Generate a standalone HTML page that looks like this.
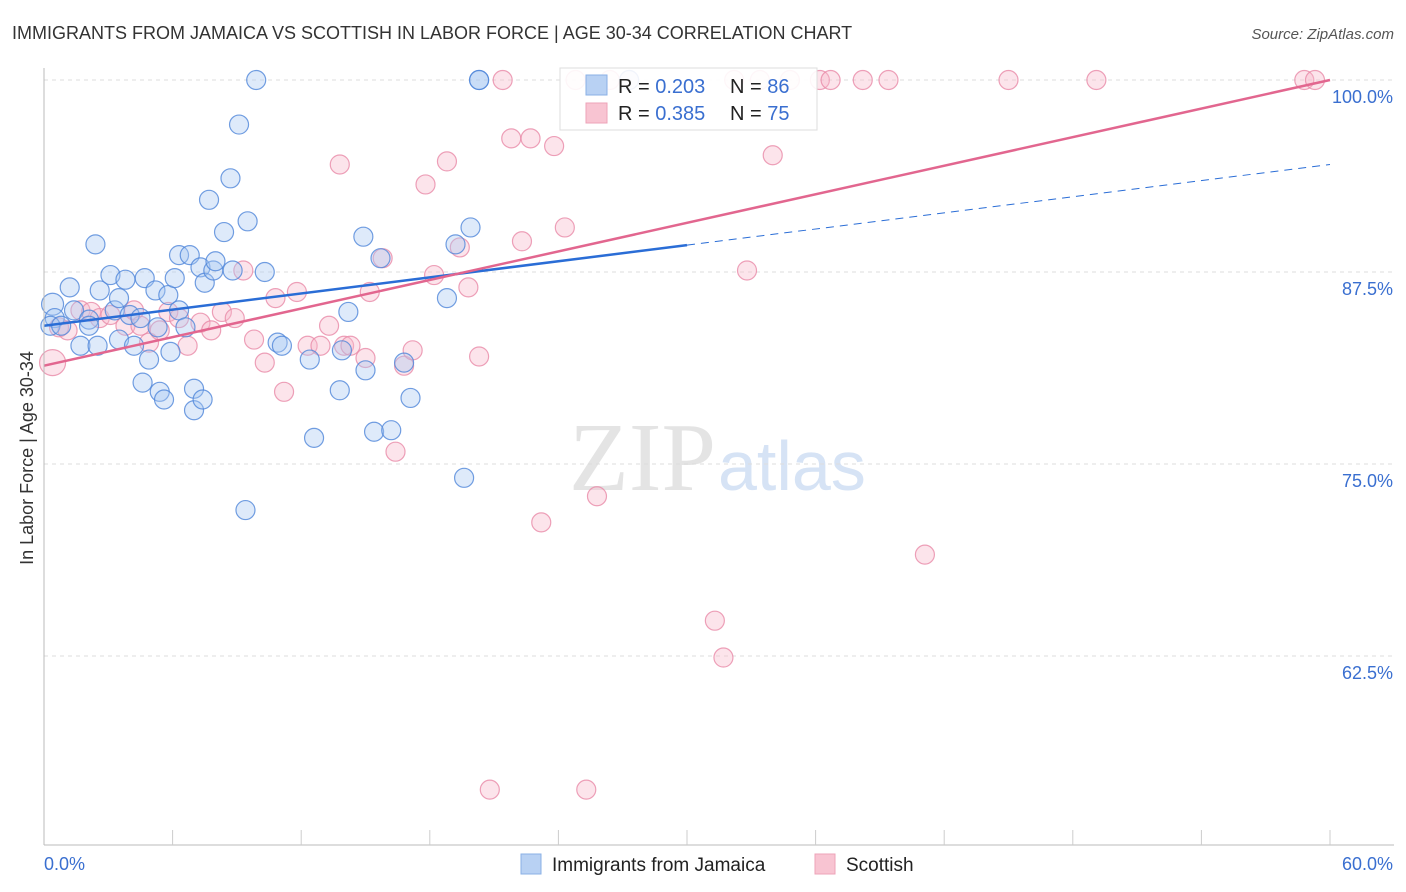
<!DOCTYPE html>
<html><head><meta charset="utf-8"><style>
body{margin:0;background:#fff;font-family:"Liberation Sans",sans-serif;}
svg{display:block}
</style></head><body>
<svg id="chart" width="1406" height="892">
<text x="12" y="39" font-size="18" fill="#333">IMMIGRANTS FROM JAMAICA VS SCOTTISH IN LABOR FORCE | AGE 30-34 CORRELATION CHART</text>
<text x="1394" y="39" font-size="15" fill="#555" font-style="italic" text-anchor="end">Source: ZipAtlas.com</text>
<text x="33" y="458" font-size="18" fill="#333" text-anchor="middle" transform="rotate(-90 33 458)">In Labor Force | Age 30-34</text>
<text x="716" y="490" font-size="98" fill="#e4e4e4" text-anchor="end" font-family="Liberation Serif">ZIP</text>
<text x="718" y="490" font-size="70" fill="#d6e3f5">atlas</text>
<g id="grid"></g><g id="pts"></g><g id="lines"></g><g id="axes"></g>
<g>
<rect x="560" y="68" width="257" height="62" fill="#fff" fill-opacity="0.9" stroke="#ddd"/>
<rect x="586" y="75" width="21" height="20" fill="#b8d1f3" stroke="#8ab0e6"/>
<rect x="586" y="103" width="21" height="20" fill="#f8c4d2" stroke="#eea3b8"/>
<text x="618" y="93" font-size="20" fill="#222">R = <tspan fill="#3a6fd0">0.203</tspan></text>
<text x="730" y="93" font-size="20" fill="#222">N = <tspan fill="#3a6fd0">86</tspan></text>
<text x="618" y="120" font-size="20" fill="#222">R = <tspan fill="#3a6fd0">0.385</tspan></text>
<text x="730" y="120" font-size="20" fill="#222">N = <tspan fill="#3a6fd0">75</tspan></text>
</g>
<g>
<rect x="521" y="854" width="20" height="20" fill="#b8d1f3" stroke="#8ab0e6"/>
<text x="552" y="871" font-size="19" fill="#222">Immigrants from Jamaica</text>
<rect x="815" y="854" width="20" height="20" fill="#f8c4d2" stroke="#eea3b8"/>
<text x="846" y="871" font-size="19" fill="#222">Scottish</text>
</g>
</svg>
<script>
const yTicks=[100,87.5,75,62.5];
const yTickLabels=["100.0%","87.5%","75.0%","62.5%"];
const xTickLabels=["0.0%","60.0%"];
const blueX=[0.4,0.5,0.3,0.8,1.2,1.4,1.7,2.1,2.1,2.4,2.5,2.6,3.1,3.3,3.5,3.5,3.8,4.0,4.2,4.5,4.6,4.7,4.9,5.2,5.3,5.4,5.6,5.8,5.9,6.1,6.3,6.3,6.6,6.8,7.0,7.0,7.3,7.4,7.5,7.7,7.9,8.0,8.4,8.7,8.8,9.1,9.4,9.5,9.9,10.3,10.9,11.1,12.4,12.6,13.8,13.9,14.2,14.9,15.0,15.4,15.7,16.2,16.8,17.1,18.8,19.2,19.6,19.9,20.3,20.3,27.3];
const blueY=[85.4,84.5,84.0,84.0,86.5,85.0,82.7,84.4,84.0,89.3,82.7,86.3,87.3,85.0,83.1,85.8,87.0,84.7,82.7,84.5,80.3,87.1,81.8,86.3,83.9,79.7,79.2,86.0,82.3,87.1,88.6,85.0,83.9,88.6,78.5,79.9,87.8,79.2,86.8,92.2,87.6,88.2,90.1,93.6,87.6,97.1,72.0,90.8,100,87.5,82.9,82.7,81.8,76.7,79.8,82.4,84.9,89.8,81.1,77.1,88.4,77.2,81.6,79.3,85.8,89.3,74.1,90.4,100,100,100];
const pinkX=[0.4,0.7,1.1,1.7,2.2,2.6,3.1,3.8,4.2,4.5,4.9,5.4,5.8,6.3,6.7,7.3,7.8,8.3,8.9,9.3,9.8,10.3,10.8,11.2,11.8,12.3,12.9,13.3,13.8,14.0,14.3,15.0,15.2,15.8,16.4,16.8,17.2,17.8,18.2,18.8,19.4,19.8,20.3,21.4,21.8,22.7,23.2,23.8,24.3,24.8,25.8,26.4,27.3,31.3,31.7,32.2,32.8,33.4,34.0,34.8,36.2,36.7,38.2,39.4,41.1,45.0,49.1,58.8,59.3,20.8,25.3,22.3];
const pinkY=[81.6,83.9,83.7,85.0,84.9,84.5,84.7,84.0,85.0,84.0,82.9,83.7,84.9,84.5,82.7,84.2,83.7,84.9,84.5,87.6,83.1,81.6,85.8,79.7,86.2,82.7,82.7,84.0,94.5,82.7,82.7,81.9,86.2,88.4,75.8,81.4,82.4,93.2,87.3,94.7,89.1,86.5,82.0,100,96.2,96.2,71.2,95.7,90.4,100,72.9,100,100,64.8,62.4,100,87.6,100,95.1,100,100,100,100,100,69.1,100,100,100,100,53.8,53.8,89.5];
const blueTrend=[84.0,0.175];
const pinkTrend=[81.4,0.31];
const X0=44,X1=1330,Y0=80,PX=15.36;
const sx=v=>X0+v*(X1-X0)/60, sy=v=>Y0+(100-v)*PX;
const NS="http://www.w3.org/2000/svg";
function mk(t,a,p){const e=document.createElementNS(NS,t);for(const k in a)e.setAttribute(k,a[k]);document.getElementById(p).appendChild(e);return e;}
yTicks.forEach((t,i)=>{
 const g=mk('line',{x1:X0,x2:1394,y1:sy(t),y2:sy(t),stroke:'#ddd','stroke-dasharray':'4,4'},'grid');
 
 
 const l=mk('text',{x:1393,y:sy(t)+23,'font-size':18,fill:'#3a6fd0','text-anchor':'end'},'axes');
 l.textContent=yTickLabels[i];
 
 
});
const xa=mk('line',{x1:X0,x2:1394,y1:845,y2:845,stroke:'#bbb'},'axes');


const ya=mk('line',{x1:X0,x2:X0,y1:68,y2:845,stroke:'#bbb'},'axes');


for(let i=1;i<=10;i++){const t=mk('line',{x1:sx(i*6),x2:sx(i*6),y1:830,y2:845,stroke:'#ccc'},'axes');
 
 }
[[0,'start',44],[60,'end',1393]].forEach((d,i)=>{const t=mk('text',{x:d[2],y:870,'font-size':18,fill:'#3a6fd0','text-anchor':d[1]},'axes');t.textContent=xTickLabels[i];
 
 });
function pts(xs,ys,fill,stroke,name){xs.forEach((x,i)=>{const c=mk('circle',{cx:sx(x),cy:sy(ys[i]),r:(i==0&&name=='scottish-point')?13:(i==0?11:9.5),fill:fill,'fill-opacity':0.38,stroke:stroke,'stroke-width':1.2,'stroke-opacity':0.8},'pts');
 
 });}
pts(pinkX,pinkY,'#f6b8ca','#e98aa8','scottish-point');
pts(blueX,blueY,'#a9c8f2','#4f86da','jamaica-point');
const bl=mk('line',{x1:sx(0),y1:sy(blueTrend[0]),x2:sx(30),y2:sy(blueTrend[0]+30*blueTrend[1]),stroke:'#2a6dd6','stroke-width':2.5},'lines');


const bd=mk('line',{x1:sx(30),y1:sy(blueTrend[0]+30*blueTrend[1]),x2:sx(60),y2:sy(blueTrend[0]+60*blueTrend[1]),stroke:'#2a6dd6','stroke-width':1,'stroke-dasharray':'8,6'},'lines');


const pl=mk('line',{x1:sx(0),y1:sy(pinkTrend[0]),x2:sx(60),y2:sy(pinkTrend[0]+60*pinkTrend[1]),stroke:'#e2668f','stroke-width':2.5},'lines');


</script>
</body></html>
